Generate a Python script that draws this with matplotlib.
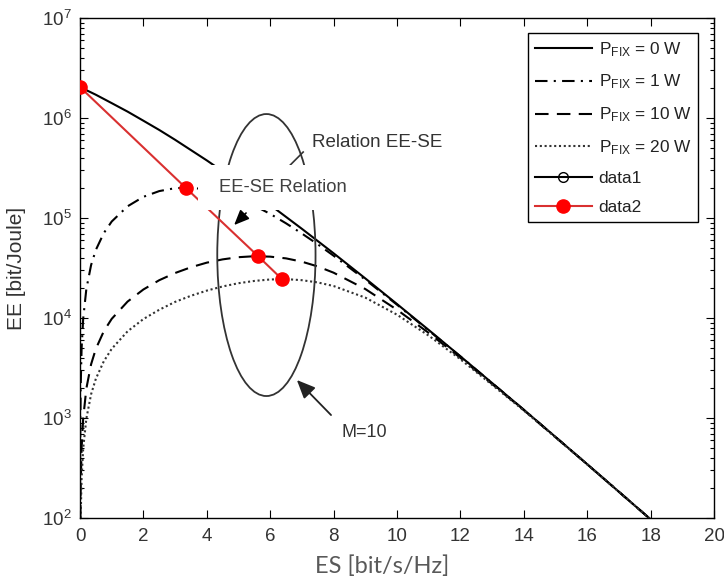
import numpy as np
import matplotlib
matplotlib.use('Agg')
import matplotlib.pyplot as plt
from matplotlib.patches import Ellipse, Rectangle, FancyArrowPatch
from matplotlib.lines import Line2D

# EE vs ES curves
es_p0 = [0, 0.5, 1, 1.5, 2, 2.5, 3, 4, 5, 6, 7, 8, 9, 10, 11, 12, 13, 14, 15, 16, 17, 18]
ee_p0 = [2.04e6, 1.71e6, 1.41e6, 1.16e6, 9.4e5, 7.6e5, 6.06e5, 3.77e5, 2.28e5, 1.35e5, 7.8e4,
         4.44e4, 2.49e4, 1.38e4, 7.6e3, 4.14e3, 2.24e3, 1.21e3, 647, 345, 183, 97]

es_p1 = [0.001, 0.005, 0.02, 0.05, 0.1, 0.2, 0.35, 0.5, 0.75, 1, 1.5, 2, 2.5, 3, 3.5, 4, 4.5,
         5, 5.5, 6, 6.5, 7, 7.5, 8, 9, 10, 12, 14, 16, 18]
ee_p1 = [99, 494, 1970, 4930, 9830, 1.95e4, 3.39e4, 4.8e4, 7.07e4, 9.23e4, 1.31e5, 1.63e5,
         1.86e5, 1.99e5, 2.01e5, 1.93e5, 1.77e5, 1.56e5, 1.33e5, 1.10e5, 8.85e4, 7.0e4, 5.46e4,
         4.2e4, 2.42e4, 1.36e4, 4.13e3, 1.21e3, 345, 97]

es_p10 = [0.01, 0.02, 0.05, 0.1, 0.2, 0.35, 0.5, 0.75, 1, 1.5, 2, 2.5, 3, 3.5, 4, 4.5, 5, 5.5,
          6, 6.5, 7, 7.5, 8, 9, 10, 11, 12, 14, 16, 18]
ee_p10 = [99, 198, 494, 987, 1970, 3450, 4920, 7370, 9810, 1.46e4, 1.93e4, 2.39e4, 2.82e4,
          3.22e4, 3.58e4, 3.86e4, 4.06e4, 4.15e4, 4.11e4, 3.95e4, 3.66e4, 3.28e4, 2.84e4,
          1.95e4, 1.21e4, 7.1e3, 4.0e3, 1.2e3, 345, 97]

es_p20 = [0.02, 0.05, 0.1, 0.2, 0.35, 0.5, 0.75, 1, 1.5, 2, 2.5, 3, 3.5, 4, 4.5, 5, 5.5, 6,
          6.5, 7, 7.5, 8, 9, 10, 11, 12, 14, 16, 18]
ee_p20 = [99, 247, 494, 987, 1730, 2470, 3690, 4920, 7360, 9770, 1.21e4, 1.45e4, 1.67e4,
          1.88e4, 2.07e4, 2.23e4, 2.35e4, 2.43e4, 2.45e4, 2.39e4, 2.27e4, 2.09e4, 1.60e4,
          1.08e4, 6.67e3, 3.87e3, 1.19e3, 344, 97]

# optimum points (data2)
es_opt = [0, 3.34, 5.62, 6.37]
ee_opt = [2.04e6, 2.0e5, 4.15e4, 2.45e4]

labels = ['P$_{FIX}$ = 0 W', 'P$_{FIX}$ = 1 W', 'P$_{FIX}$ = 10 W', 'P$_{FIX}$ = 20 W']

plt.rcParams['font.family'] = ['Liberation Sans', 'DejaVu Sans']
plt.rcParams['mathtext.fontset'] = 'custom'
plt.rcParams['mathtext.rm'] = 'Liberation Sans'
plt.rcParams['mathtext.default'] = 'regular'

fig = plt.figure(figsize=(7.24, 5.86), dpi=100)
ax = fig.add_axes([0.1105, 0.116, 0.8757, 0.8532])

lw = 1.5
ax.plot(es_p0, ee_p0, color='black', lw=lw, linestyle='-')
ax.plot(es_p1, ee_p1, color='black', lw=lw, linestyle=(0, (6, 3, 1, 3)))
ax.plot(es_p10, ee_p10, color='black', lw=lw, linestyle=(0, (6.5, 4)))
ax.plot(es_p20, ee_p20, color='#333333', lw=lw, linestyle=(0, (1, 1.3)))
ax.plot(es_opt, ee_opt, color='#d93030', lw=1.5, marker='o', markersize=9.5,
        markerfacecolor='red', markeredgecolor='red', zorder=5)

ax.set_yscale('log')
ax.set_xlim(0, 20)
ax.set_ylim(1e2, 1e7)
ax.set_xticks(np.arange(0, 21, 2))

ax.tick_params(which='both', direction='in', top=True, right=True,
               labelsize=13.5, labelcolor='#333333', width=0.8)
ax.tick_params(which='major', length=6)
ax.tick_params(which='minor', length=3)
ax.tick_params(axis='x', pad=7)
ax.tick_params(axis='y', pad=6)
for s in ax.spines.values():
    s.set_linewidth(1.0)

ax.set_ylabel('EE [bit/Joule]', fontsize=15, color='#333333')
ax.yaxis.set_label_coords(-0.085, 0.5)
ax.set_xlabel('ES [bit/s/Hz]', fontsize=17, color='#595959', family='Lato')
ax.xaxis.set_label_coords(0.476, -0.075)

# annotations (positions in axes fraction)
ax.add_patch(Ellipse((0.294, 0.526), 0.155, 0.564, transform=ax.transAxes,
                     fill=False, edgecolor='#333333', lw=1.3, zorder=4))
ax.plot([0.352, 0.330], [0.732, 0.704], transform=ax.transAxes, color='#333333', lw=1.2)
ax.text(0.366, 0.752, 'Relation EE-SE', transform=ax.transAxes, fontsize=13.5,
        color='#333333', va='center', ha='left')

ax.add_patch(Rectangle((0.186, 0.616), 0.271, 0.090, transform=ax.transAxes,
                       facecolor='white', edgecolor='none', zorder=6))
ax.text(0.219, 0.662, 'EE-SE Relation', transform=ax.transAxes, fontsize=13.2,
        color='#404040', va='center', ha='left', zorder=7)
ax.add_patch(FancyArrowPatch((0.265, 0.614), (0.240, 0.582), transform=ax.transAxes,
                             arrowstyle='-|>,head_length=0.7,head_width=0.3',
                             mutation_scale=13, color='black', lw=1.2, zorder=7))

ax.add_patch(FancyArrowPatch((0.399, 0.202), (0.339, 0.280), transform=ax.transAxes,
                             arrowstyle='-|>,head_length=0.8,head_width=0.35',
                             mutation_scale=14, color='#222222', lw=1.3, zorder=7))
ax.text(0.413, 0.172, 'M=10', transform=ax.transAxes, fontsize=13,
        color='#333333', va='center', ha='left')

handles = [
    Line2D([], [], color='black', lw=lw, linestyle='-'),
    Line2D([], [], color='black', lw=lw, linestyle=(0, (6, 3, 1, 3))),
    Line2D([], [], color='black', lw=lw, linestyle=(0, (6.5, 4))),
    Line2D([], [], color='#333333', lw=lw, linestyle=(0, (1, 1.3))),
    Line2D([], [], color='black', lw=lw, marker='o', markersize=7,
           markerfacecolor='none', markeredgecolor='black'),
    Line2D([], [], color='#d93030', lw=lw, marker='o', markersize=9.5,
           markerfacecolor='red', markeredgecolor='red'),
]
leg = ax.legend(handles, labels + ['data1', 'data2'], loc='upper right',
                bbox_to_anchor=(0.975, 0.97), borderaxespad=0, fontsize=12.4,
                handlelength=3.3, handletextpad=0.4, labelspacing=0.82,
                fancybox=False, framealpha=1, edgecolor='black', borderpad=0.4)
leg.get_frame().set_linewidth(1.0)
for t in leg.get_texts():
    t.set_color('#222222')

fig.savefig('out.png', dpi=100)
